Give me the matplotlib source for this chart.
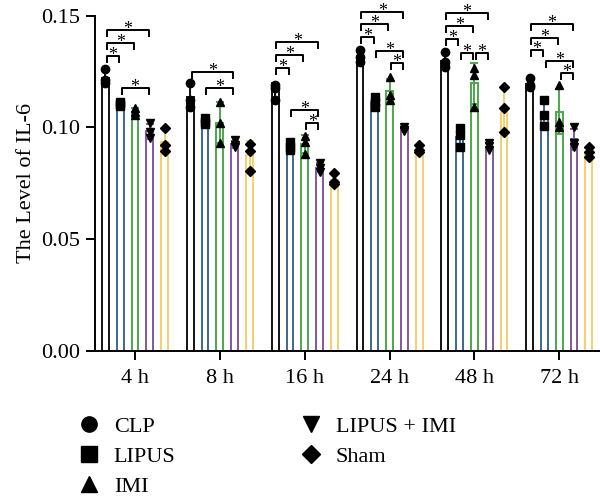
import numpy as np
import matplotlib
matplotlib.use("Agg")
import matplotlib.pyplot as plt
from matplotlib.lines import Line2D

plt.rcParams['font.family'] = ['Liberation Serif', 'DejaVu Serif']

timepoints = ["4 h", "8 h", "16 h", "24 h", "48 h", "72 h"]
groups = ["CLP", "LIPUS", "IMI", "LIPUS + IMI", "Sham"]

# individual points (3 per bar), per time point
clp = [[0.1260, 0.1210, 0.1197], [0.1197, 0.1121, 0.1089], [0.1188, 0.1174, 0.1121],
       [0.1345, 0.1313, 0.1291], [0.1336, 0.1291, 0.1268], [0.1219, 0.1188, 0.1179]]
lipus = [[0.1114, 0.1105, 0.1096], [0.1043, 0.1022, 0.1016], [0.0933, 0.0911, 0.0897],
         [0.1134, 0.1112, 0.1089], [0.0996, 0.0965, 0.0911], [0.1121, 0.1054, 0.1003]]
imi = [[0.1085, 0.1067, 0.1054], [0.1112, 0.1018, 0.0928], [0.0960, 0.0933, 0.0879],
       [0.1224, 0.1143, 0.1121], [0.1264, 0.1233, 0.1090], [0.1188, 0.1022, 0.1000]]
lipus_imi = [[0.1018, 0.0978, 0.0951], [0.0942, 0.0919, 0.0910], [0.0839, 0.0816, 0.0799],
             [0.1000, 0.0987, 0.0983], [0.0928, 0.0915, 0.0897], [0.1000, 0.0928, 0.0911]]
sham = [[0.0996, 0.0919, 0.0892], [0.0924, 0.0893, 0.0803], [0.0794, 0.0754, 0.0745],
        [0.0919, 0.0897, 0.0888], [0.1179, 0.1085, 0.0978], [0.0911, 0.0888, 0.0866]]

# significance brackets: (time index, bar a, bar b, height)
brackets = [
    (0, 0, 1, 0.1317), (0, 0, 2, 0.1376), (0, 0, 3, 0.1434), (0, 1, 3, 0.1174),
    (1, 0, 3, 0.1246), (1, 1, 3, 0.1174),
    (2, 0, 1, 0.1264), (2, 0, 2, 0.1322), (2, 0, 3, 0.1380), (2, 1, 3, 0.1076), (2, 2, 3, 0.1018),
    (3, 0, 1, 0.1403), (3, 0, 2, 0.1461), (3, 0, 3, 0.1515), (3, 1, 3, 0.1340), (3, 2, 3, 0.1286),
    (4, 0, 1, 0.1394), (4, 0, 2, 0.1452), (4, 0, 3, 0.1510), (4, 1, 2, 0.1331), (4, 2, 3, 0.1331),
    (5, 0, 1, 0.1344), (5, 0, 2, 0.1398), (5, 0, 3, 0.1461), (5, 1, 3, 0.1295), (5, 2, 3, 0.1242),
]

series = [clp, lipus, imi, lipus_imi, sham]
colors = ["#111111", "#3b6795", "#4aa84a", "#8457a0", "#f5cf6a"]
markers = ["o", "s", "^", "v", "D"]
msizes = [6, 6, 6, 6, 5]

fig = plt.figure(figsize=(6.0, 4.98), dpi=100)
ax = fig.add_axes([95/600, 1 - 350.5/498, 505/600, 335/498])

x = np.arange(len(timepoints))
step = 0.1745
width = 0.08
offsets = (np.arange(len(groups)) - 2) * step

for gi, (data, c, m, ms) in enumerate(zip(series, colors, markers, msizes)):
    arr = np.array(data)
    means = arr.mean(axis=1)
    sds = arr.std(axis=1, ddof=1)
    xs = x + offsets[gi]
    ax.bar(xs, means, width=width, facecolor="white", edgecolor=c, linewidth=1.4, zorder=2)
    ax.errorbar(xs, means, yerr=sds, fmt="none", ecolor=c, elinewidth=1.4,
                capsize=3, capthick=1.4, zorder=3)
    for ti in range(len(timepoints)):
        ax.plot([xs[ti]] * arr.shape[1], arr[ti], linestyle="none", marker=m,
                color="black", markersize=ms, zorder=4, clip_on=False)

tick_h = 0.0027
inset = 0.015
for ti, a, b, h in brackets:
    xa = x[ti] + offsets[a] + inset
    xb = x[ti] + offsets[b] - inset
    ax.plot([xa, xa, xb, xb], [h - tick_h, h, h, h - tick_h], color="black",
            linewidth=1.4, clip_on=False, zorder=5)
    ax.annotate("*", xy=((xa + xb) / 2, h), xytext=(0, -2.5), textcoords="offset points",
                ha="center", va="baseline", fontsize=13, annotation_clip=False)

ax.set_xlim(-0.472, 5.48)
ax.set_ylim(0, 0.15)
ax.set_yticks([0.0, 0.05, 0.10, 0.15])
ax.set_yticklabels(["0.00", "0.05", "0.10", "0.15"])
ax.set_xticks(x)
ax.set_xticklabels(timepoints)
ax.tick_params(axis="both", labelsize=16, width=1.4, length=6.5, direction="out", pad=4)
ax.tick_params(axis="x", pad=7)
ax.set_ylabel("The Level of IL-6", fontsize=16, labelpad=4)

for s in ["top", "right"]:
    ax.spines[s].set_visible(False)
for s in ["left", "bottom"]:
    ax.spines[s].set_linewidth(1.4)

handles = [Line2D([], [], linestyle="none", marker=m, color="black", markersize=11 if m != "D" else 9)
           for m in markers]
fig.legend(handles, groups, ncol=2, frameon=False, fontsize=16,
           loc="upper left", bbox_to_anchor=(0.112, 0.182), handlelength=1.2,
           handletextpad=0.5, columnspacing=5.5, labelspacing=0.42, borderaxespad=0)

fig.savefig("out.png", dpi=100)
